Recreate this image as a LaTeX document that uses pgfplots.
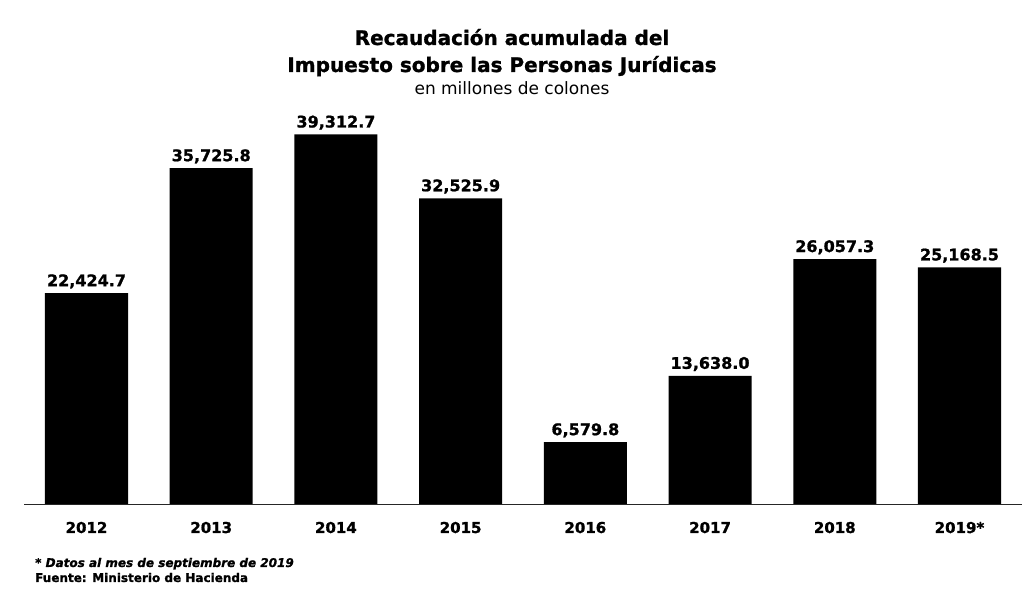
\documentclass[border=0pt]{standalone}
\usepackage{fontspec}
\setmainfont{DejaVu Sans}[BoldFeatures={FakeBold=1.2},BoldItalicFeatures={FakeBold=1.2}]
\usepackage{pgfplots}
\pgfplotsset{compat=1.18}
\begin{document}
\begin{tikzpicture}[x=1pt,y=1pt]
\path[use as bounding box] (0,0) rectangle (1027,593);
\begin{axis}[
  at={(86.5pt,89pt)}, anchor=origin,
  scale only axis, width=997.7pt, height=394.8pt,
  xmin=-0.5, xmax=7.5, ymin=0, ymax=42000,
  axis y line=none,
  axis x line*=bottom,
  x axis line style={black!85, line width=0.6pt},
  xtick={0,...,7},
  xticklabels={2012,2013,2014,2015,2016,2017,2018,2019*},
  major tick length=0pt,
  ytick=\empty,
  xticklabel style={font=\fontsize{15}{18}\selectfont\bfseries, anchor=base, yshift=-29pt, inner sep=0pt},
  ybar, bar width=0.666,
  clip=false,
  nodes near coords,
  nodes near coords style={font=\fontsize{16}{19}\selectfont\bfseries, anchor=base, inner sep=0pt, yshift=7pt,
    /pgf/number format/.cd, fixed, fixed zerofill, precision=1, 1000 sep={,}, assume math mode=true},
]
\addplot[fill=black, draw=none] coordinates {
  (0,22424.7) (1,35725.8) (2,39312.7) (3,32525.9)
  (4,6579.8) (5,13638.0) (6,26057.3) (7,25168.5)
};
\end{axis}
\node[anchor=base, font=\fontsize{20}{24}\selectfont\bfseries] at (512,548) {Recaudación acumulada del};
\node[anchor=base, font=\fontsize{20}{24}\selectfont\bfseries] at (502,521) {Impuesto sobre las Personas Jurídicas};
\node[anchor=base, font=\fontsize{17}{20}\selectfont] at (512,498) {en millones de colones};
\node[anchor=base west, inner sep=0pt, font=\fontsize{12}{14}\selectfont\bfseries\itshape] at (35,26) {* Datos al mes de septiembre de 2019};
\node[anchor=base west, inner sep=0pt, font=\fontsize{12}{14}\selectfont\bfseries] at (35,11) {Fuente: Ministerio de Hacienda};
\end{tikzpicture}
\end{document}
